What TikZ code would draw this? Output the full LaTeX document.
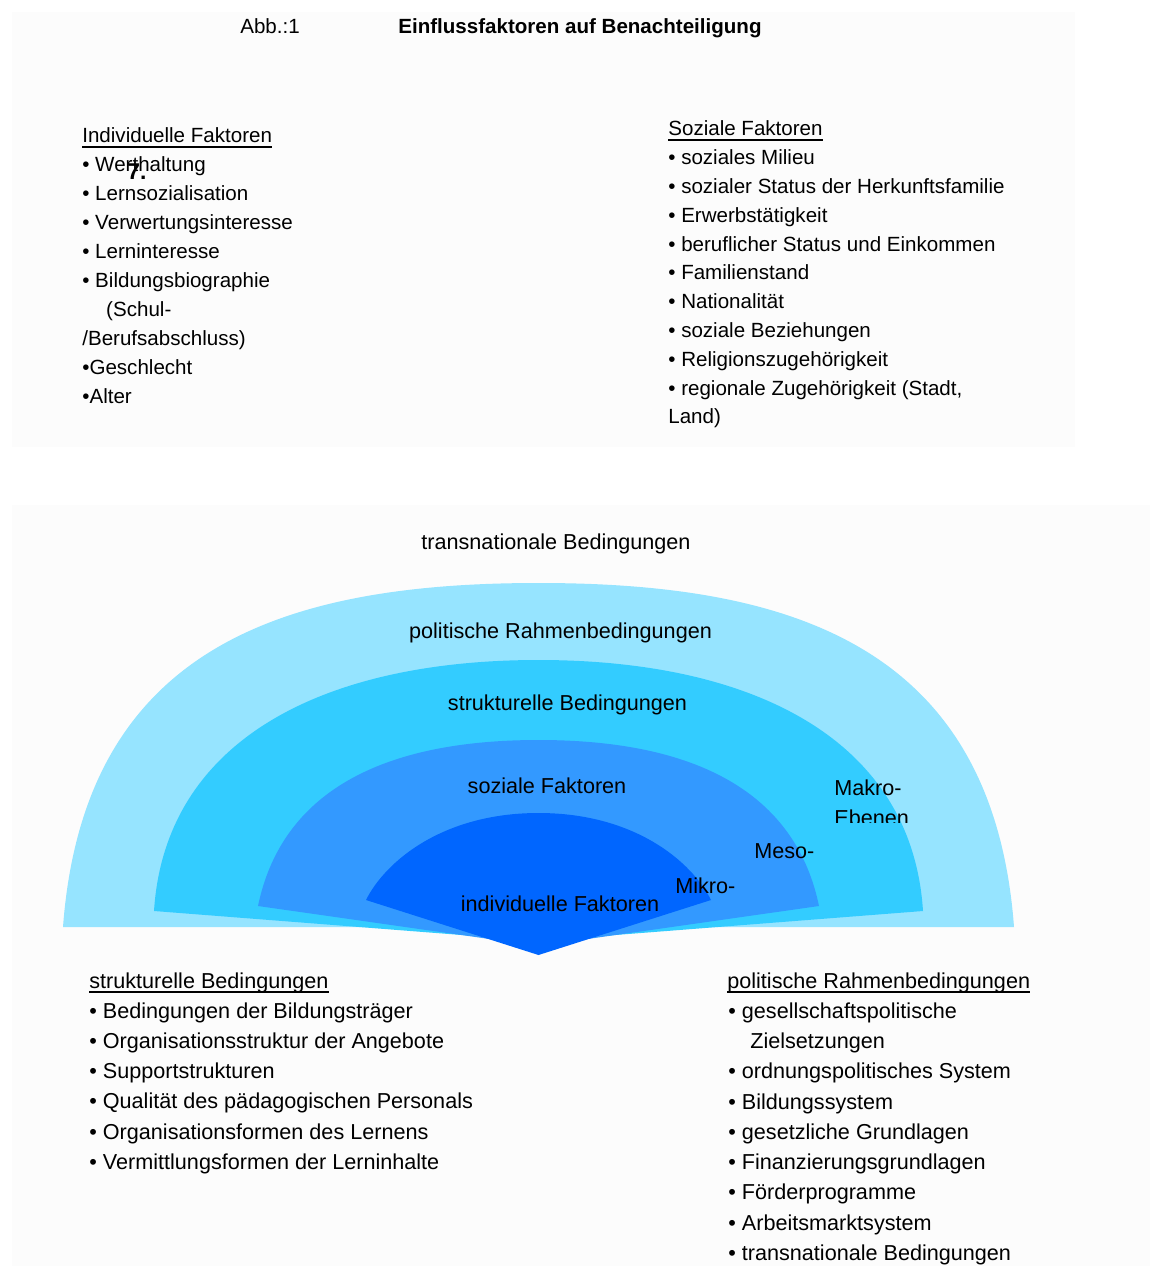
\documentclass[tikz,border=0pt]{standalone}
\usepackage{fontspec}
\setmainfont{Liberation Sans}
\usetikzlibrary{calc}

\definecolor{ringpol}{RGB}{150,228,255}
\definecolor{ringstr}{RGB}{51,204,255}
\definecolor{ringsoz}{RGB}{51,153,255}
\definecolor{ringind}{RGB}{0,102,255}
\definecolor{paper}{RGB}{252,252,252}

\tikzset{
  txt/.style={anchor=base west, inner sep=0pt, font=\fontsize{11.7}{14}\selectfont},
  txtb/.style={anchor=base west, inner sep=0pt, font=\fontsize{12.3}{15}\selectfont},
  lbl/.style={anchor=base, inner sep=0pt, font=\fontsize{12.3}{15}\selectfont},
  ul/.style={line width=0.8pt},
}

\begin{document}
\begin{tikzpicture}[x=0.02cm, y=-0.02cm]
\useasboundingbox (0,0) rectangle (1160,1266);
\fill[white] (0,0) rectangle (1160,1266);
\fill[paper] (12,12) rectangle (1075,447);
\fill[paper] (12,505) rectangle (1150,1266);

% title line
\node[txt] (abb) at (240,34) {Abb.:1};
\node[txt, font=\fontsize{11.7}{14}\selectfont\bfseries] (title) at (398,34) {Einflussfaktoren auf Benachteiligung};

% individuelle Faktoren
\node[txt] (ind) at (82,143) {Individuelle Faktoren};
\draw[ul] ($(ind.base west)+(0,4)$) -- ($(ind.base east)+(0,4)$);
\foreach \t [count=\i] in {\textbullet\ Werthaltung, \textbullet\ Lernsozialisation,
    \textbullet\ Verwertungsinteresse, \textbullet\ Lerninteresse,
    \textbullet\ Bildungsbiographie, \hspace*{13.6pt}(Schul-, /Berufsabschluss),
    \textbullet Geschlecht, \textbullet Alter}
  \node[txt] (ind-\i) at (82,{143+29*\i}) {\t};
\node[txt, font=\fontsize{13}{15}\selectfont\bfseries] (stray) at (127,180) {7.};

% soziale Faktoren
\node[txt] (soz) at (668,136) {Soziale Faktoren};
\draw[ul] ($(soz.base west)+(0,4)$) -- ($(soz.base east)+(0,4)$);
\foreach \t [count=\i] in {\textbullet\ soziales Milieu,
    \textbullet\ sozialer Status der Herkunftsfamilie,
    \textbullet\ Erwerbstätigkeit, \textbullet\ beruflicher Status und Einkommen,
    \textbullet\ Familienstand, \textbullet\ Nationalität,
    \textbullet\ soziale Beziehungen, \textbullet\ Religionszugehörigkeit,
    {\textbullet\ regionale Zugehörigkeit (Stadt,}, Land)}
  \node[txt] (soz-\i) at (668,{136+28.8*\i}) {\t};

% the rings, outermost first
\foreach \ring/\lx/\ly/\ax/\ay/\bx/\hy/\py in {
    ringpol/63/927/84/647/283.5/583/927,
    ringstr/154/911/165/740/323/660/941,
    ringsoz/258/906/280/800/370/740/946,
    ringind/366/900/385/862/442/813/955}
  \fill[\ring] (\lx,\ly) .. controls (\ax,\ay) and (\bx,\hy) .. (538.5,\hy)
    .. controls ({1077-\bx},\hy) and ({1077-\ax},\ay) .. ({1077-\lx},\ly)
    -- (538.5,\py) -- cycle;

\node[lbl] (l-trans) at (556,549) {transnationale Bedingungen};
\node[lbl] (l-pol) at (560.5,638) {politische Rahmenbedingungen};
\node[lbl] (l-str) at (567.5,710) {strukturelle Bedingungen};
\node[lbl] (l-soz) at (547,793) {soziale Faktoren};
\node[lbl] (l-ind) at (560,911) {individuelle Faktoren};
\node[txtb] (mikro) at (675,893) {Mikro-};
\node[txtb] (meso) at (754,858) {Meso-};
\node[txtb] (makro) at (834,795) {Makro-};
\begin{scope}
  \clip (820,800) rectangle (940,822);
  \node[txtb] (ebenen) at (834,825) {Ebenen};
\end{scope}

% strukturelle Bedingungen
\node[txtb] (str) at (89,988) {strukturelle Bedingungen};
\draw[ul] ($(str.base west)+(0,4)$) -- ($(str.base east)+(0,4)$);
\foreach \t [count=\i] in {Bedingungen der Bildungsträger,
    Organisationsstruktur der Angebote, Supportstrukturen,
    Qualität des pädagogischen Personals, Organisationsformen des Lernens,
    Vermittlungsformen der Lerninhalte}
  \node[txtb] (str-\i) at (89,{988+30.2*\i}) {\textbullet\ \t};

% politische Rahmenbedingungen
\node[txtb] (pol) at (727,988) {politische Rahmenbedingungen};
\draw[ul] ($(pol.base west)+(0,4)$) -- ($(pol.base east)+(0,4)$);
\foreach \t [count=\i] in {\textbullet\ gesellschaftspolitische,
    \hspace*{12.5pt}Zielsetzungen, \textbullet\ ordnungspolitisches System,
    \textbullet\ Bildungssystem, \textbullet\ gesetzliche Grundlagen,
    \textbullet\ Finanzierungsgrundlagen, \textbullet\ Förderprogramme,
    \textbullet\ Arbeitsmarktsystem, \textbullet\ transnationale Bedingungen}
  \node[txtb] (pol-\i) at (728,{988+30.25*\i}) {\t};
\end{tikzpicture}
\end{document}
